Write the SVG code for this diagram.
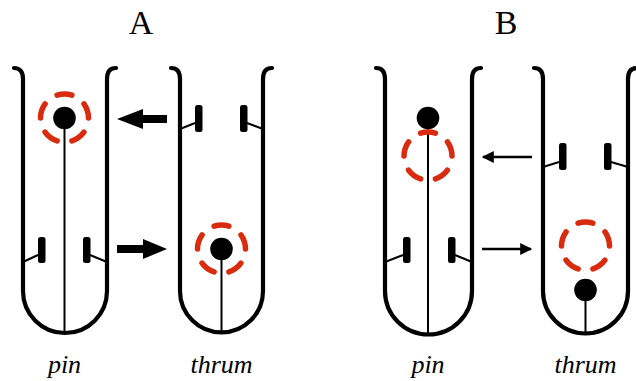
<svg xmlns="http://www.w3.org/2000/svg" width="636" height="381" viewBox="0 0 636 381">
  <style>
    .tube { fill: none; stroke: #000; stroke-width: 4.2; stroke-linecap: round; stroke-linejoin: round; }
    .style { fill: none; stroke: #000; stroke-width: 2; }
    .filament { fill: none; stroke: #000; stroke-width: 2; }
    .anther { fill: #000; }
    .stigma { fill: #000; }
    .ring { fill: none; stroke: #d92b10; stroke-width: 5.5; stroke-dasharray: 36 36; stroke-linecap: round; }
    .title { font-family: "Liberation Serif", "Times New Roman", serif; font-size: 34px; fill: #000; text-anchor: middle; }
    .label { font-family: "Liberation Serif", "Times New Roman", serif; font-size: 26px; font-style: italic; fill: #000; text-anchor: middle; }
    .thick { fill: #000; }
    .thin { stroke: #000; stroke-width: 2.5; fill: none; }
  </style>
  <defs>
    <marker id="head" viewBox="0 0 10 10" refX="9" refY="5" markerWidth="17" markerHeight="12" markerUnits="userSpaceOnUse" orient="auto">
      <path d="M0 0 L10 5 L0 10 Z" fill="#000"/>
    </marker>
  </defs>

  <rect width="636" height="381" fill="#fff"/>

  <text class="title" x="141" y="34">A</text>
  <text class="title" x="506" y="34">B</text>

  <!-- A: pin flower -->
  <g id="a-pin">
    <path class="tube" d="M14 68 Q23 68 23 79 L23 291 A42 42 0 0 0 107 291 L107 79 Q107 68 116 68"/>
    <line class="style" x1="64.5" y1="118" x2="64.5" y2="333"/>
    <circle class="stigma" cx="64.5" cy="118" r="11.3"/>
    <circle class="ring" cx="64.5" cy="118" r="24" pathLength="360" transform="rotate(-108 64.5 118)"/>
    <line class="filament" x1="23" y1="262" x2="38" y2="255"/>
    <line class="filament" x1="90" y1="255" x2="107" y2="262"/>
    <rect class="anther" x="38" y="237" width="7.5" height="26" rx="2.5"/>
    <rect class="anther" x="83" y="237" width="7.5" height="26" rx="2.5"/>
    <text class="label" x="64.5" y="373">pin</text>
  </g>

  <!-- A: thrum flower -->
  <g id="a-thrum">
    <path class="tube" d="M171 68 Q180 68 180 79 L180 291 A41.5 41.5 0 0 0 263 291 L263 79 Q263 68 272 68"/>
    <line class="style" x1="221.5" y1="249" x2="221.5" y2="333"/>
    <circle class="stigma" cx="221.5" cy="249" r="11.3"/>
    <circle class="ring" cx="221.5" cy="249" r="24" pathLength="360" transform="rotate(-108 221.5 249)"/>
    <line class="filament" x1="180" y1="129" x2="195" y2="123"/>
    <line class="filament" x1="247" y1="123" x2="263" y2="129"/>
    <rect class="anther" x="195" y="105" width="7.5" height="27" rx="2.5"/>
    <rect class="anther" x="240" y="105" width="7.5" height="27" rx="2.5"/>
    <text class="label" x="221.5" y="373">thrum</text>
  </g>

  <!-- B: pin flower -->
  <g id="b-pin">
    <path class="tube" d="M376 68 Q385 68 385 79 L385 291 A43.5 43.5 0 0 0 472 291 L472 79 Q472 68 481 68"/>
    <line class="style" x1="428" y1="118" x2="428" y2="333"/>
    <circle class="stigma" cx="428" cy="118" r="11.3"/>
    <circle class="ring" cx="428" cy="156" r="24" pathLength="360" transform="rotate(-108 428 156)"/>
    <line class="filament" x1="385" y1="262" x2="403" y2="255"/>
    <line class="filament" x1="455" y1="255" x2="472" y2="262"/>
    <rect class="anther" x="403" y="237" width="7.5" height="26" rx="2.5"/>
    <rect class="anther" x="448" y="237" width="7.5" height="26" rx="2.5"/>
    <text class="label" x="428" y="373">pin</text>
  </g>

  <!-- B: thrum flower -->
  <g id="b-thrum">
    <path class="tube" d="M534 68 Q543 68 543 79 L543 291 A42.5 42.5 0 0 0 628 291 L628 79 Q628 68 637 68"/>
    <line class="style" x1="585.5" y1="290" x2="585.5" y2="333"/>
    <circle class="stigma" cx="585.5" cy="290" r="11.3"/>
    <circle class="ring" cx="585.5" cy="246" r="24" pathLength="360" transform="rotate(-108 585.5 246)"/>
    <line class="filament" x1="543" y1="167" x2="559" y2="162"/>
    <line class="filament" x1="611" y1="162" x2="628" y2="167"/>
    <rect class="anther" x="559" y="143" width="7.5" height="27" rx="2.5"/>
    <rect class="anther" x="604" y="143" width="7.5" height="27" rx="2.5"/>
    <text class="label" x="585.5" y="373">thrum</text>
  </g>

  <!-- pollen flow between morphs -->
  <g id="connectors">
    <path class="thick" d="M167 115 L143 115 L143 109 L117 119 L143 129 L143 123 L167 123 Z"/>
    <path class="thick" d="M117 245 L143 245 L143 239 L167 249 L143 259 L143 253 L117 253 Z"/>
    <line class="thin" x1="532" y1="157" x2="483" y2="157" marker-end="url(#head)"/>
    <line class="thin" x1="482" y1="249" x2="531" y2="249" marker-end="url(#head)"/>
  </g>
</svg>
